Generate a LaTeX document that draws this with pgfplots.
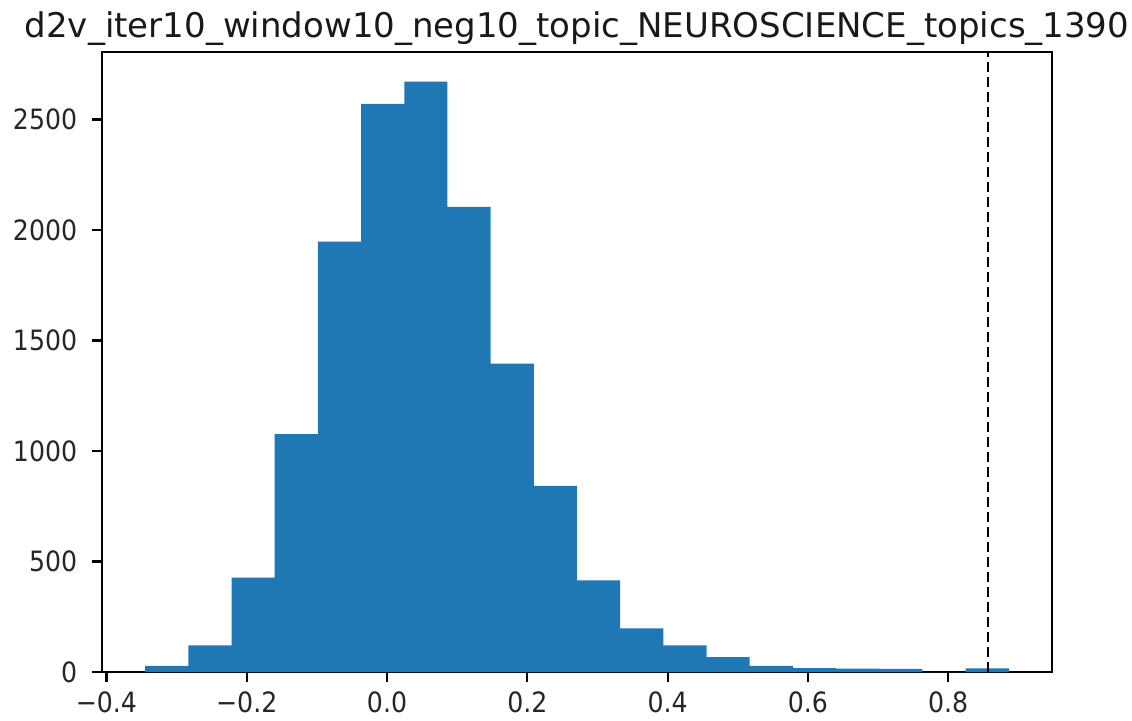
\documentclass[border=0pt]{standalone}
\usepackage{fontspec}
\setmainfont{DejaVu Sans}
\newfontfamily\tickfont[FakeStretch=0.9]{DejaVu Sans}
\usepackage{pgfplots}
\pgfplotsset{compat=1.18}
\definecolor{histblue}{HTML}{1F77B4}

\begin{document}
\begin{tikzpicture}
\begin{axis}[
  scale only axis,
  width=475pt, height=310pt,
  xmin=-0.4063, xmax=0.9479,
  ymin=0, ymax=2805,
  axis line style={black, line width=1.1pt},
  tick style={black, line width=1.1pt},
  tick align=outside,
  major tick length=4.9pt,
  xtick pos=left, ytick pos=left,
  xtick={-0.4,-0.2,0.0,0.2,0.4,0.6,0.8},
  xticklabels={−0.4,−0.2,0.0,0.2,0.4,0.6,0.8},
  ytick={0,500,1000,1500,2000,2500},
  scaled ticks=false,
  /pgf/number format/.cd, set thousands separator={}, assume math mode=true, /pgfplots/.cd,
  tick label style={font=\tickfont\fontsize{14}{16}\selectfont, text=black!85},
  xticklabel style={yshift=-1.5pt},
  yticklabel style={xshift=-4pt},
  title={d2v\_iter10\_window10\_neg10\_topic\_NEUROSCIENCE\_topics\_1390},
  every axis title/.style={at={(0.5,1)}, anchor=base, yshift=7.35pt, inner sep=0pt,
               font=\fontsize{17}{20}\selectfont, text=black!90},
]
% histogram: left bin edges and counts (last entry closes the final bin)
\addplot[ybar interval, fill=histblue, draw=none] coordinates {
  (-0.34470,  28)
  (-0.28315, 120)
  (-0.22160, 427)
  (-0.16005, 1076)
  (-0.09850, 1947)
  (-0.03695, 2570)
  ( 0.02460, 2671)
  ( 0.08615, 2104)
  ( 0.14770, 1395)
  ( 0.20925,  842)
  ( 0.27080,  415)
  ( 0.33235,  197)
  ( 0.39390,  120)
  ( 0.45545,   67)
  ( 0.51700,   28)
  ( 0.57855,   17)
  ( 0.64010,   15)
  ( 0.70165,   14)
  ( 0.76320,    0)
  ( 0.82475,   16)
  ( 0.88630,    0)
};
% reference value
\addplot[black, line width=1pt, dash pattern=on 5.2pt off 2.3pt] coordinates {(0.8566,0) (0.8566,2805)};
\end{axis}
\pgfresetboundingbox
\path (current axis.south west) ++(-51pt,-24pt) rectangle ++(566pt,360pt);
\end{tikzpicture}
\end{document}
